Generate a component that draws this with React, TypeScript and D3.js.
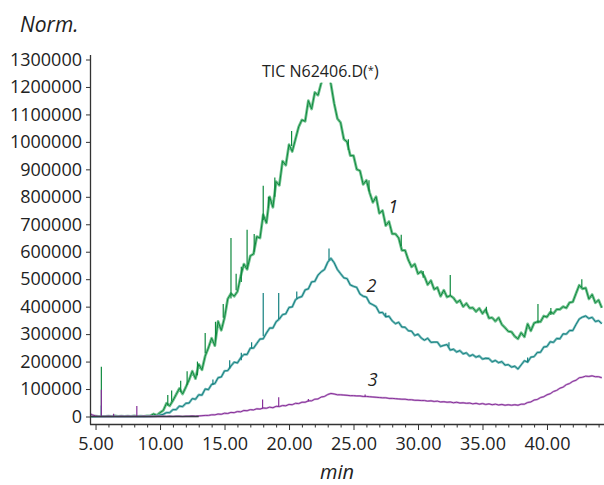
import { useRef, useEffect } from 'react';
import * as d3 from 'd3';

// sampling grid: every 0.25 min starting at 4.5 min
const startMin = 4.5;
const stepMin = 0.25;

// abundance values in thousands (narrow spikes listed separately)
const trace1 = [
  3, 0, 1, 0, 0, 0, 1, 0, 2, 0, 1, 0, 1, 0, 2, 0, 1, 0, 2, 3,
  9, 4, 14, 22, 48, 39, 58, 80, 102, 82, 107, 133, 165, 138, 190, 170, 220, 250, 285, 258,
  346, 314, 360, 428, 448, 438, 455, 510, 555, 536, 585, 592, 655, 650, 735, 705, 800, 762, 855, 842,
  930, 915, 990, 965, 1010, 1055, 1080, 1075, 1150, 1120, 1180, 1170, 1215, 1230, 1260, 1210, 1140, 1085, 1070, 1010,
  1000, 950, 950, 900, 895, 845, 860, 815, 780, 800, 740, 750, 695, 710, 665, 665, 650, 605, 605, 570,
  545, 555, 520, 528, 510, 480, 495, 463, 470, 438, 460, 435, 440, 432, 415, 423, 400, 412, 395, 396,
  382, 394, 375, 390, 358, 360, 347, 360, 335, 323, 310, 308, 292, 283, 305, 290, 337, 312, 340, 345,
  345, 366, 362, 380, 375, 390, 390, 400, 395, 415, 417, 448, 478, 465, 468, 428, 444, 414, 424, 396
];

const trace2 = [
  2, 0, 1, 0, 0, 0, 1, 0, 1, 0, 1, 0, 1, 0, 1, 0, 1, 0, 1, 0,
  1, 2, 5, 8, 14, 14, 25, 25, 38, 36, 48, 49, 65, 63, 79, 78, 100, 98, 117, 120,
  141, 144, 166, 167, 184, 198, 195, 213, 226, 226, 249, 249, 266, 282, 283, 304, 322, 322, 345, 355,
  371, 374, 397, 399, 425, 433, 437, 461, 465, 490, 492, 515, 527, 535, 562, 576, 560, 535, 520, 505,
  502, 479, 474, 470, 446, 438, 435, 413, 407, 400, 378, 379, 363, 365, 348, 338, 343, 326, 325, 312,
  311, 295, 300, 286, 278, 285, 270, 271, 271, 255, 259, 262, 242, 245, 235, 240, 228, 232, 220, 225,
  216, 221, 209, 212, 211, 199, 204, 196, 200, 187, 189, 180, 183, 173, 188, 203, 198, 216, 218, 233,
  234, 253, 255, 272, 270, 284, 283, 301, 300, 313, 313, 335, 355, 362, 366, 357, 361, 346, 349, 338
];

const trace3 = [
  12, 6, 2, 0, 0, 0, 1, 0, 0, 0, 1, 0, 1, 0, 1, 0, 0, 1, 0, 1,
  0, 1, 0, 1, 0, 1, 0, 1, 1, 0, 1, 1, 2, 1, 2, 3, 4, 4, 6, 6,
  9, 8, 12, 11, 15, 14, 18, 17, 22, 21, 25, 24, 28, 27, 31, 30, 34, 32, 37, 36,
  40, 39, 44, 43, 48, 47, 52, 52, 57, 57, 63, 64, 71, 73, 80, 84, 82, 79, 79, 78,
  77, 76, 76, 75, 75, 73, 73, 72, 71, 70, 69, 68, 68, 66, 66, 65, 64, 63, 63, 61,
  61, 59, 59, 58, 58, 56, 57, 55, 56, 53, 54, 52, 53, 50, 52, 49, 50, 48, 49, 46,
  48, 45, 47, 44, 46, 43, 45, 42, 44, 41, 43, 41, 43, 41, 45, 45, 51, 53, 60, 62,
  69, 72, 79, 83, 91, 95, 103, 107, 116, 120, 128, 132, 141, 143, 147, 146, 148, 145, 145, 141
];

// narrow spikes: [time (min), foot, top] in thousands
const spikes1 = [
  [5.45, 0, 181], [10.6, 40, 78], [10.9, 55, 95], [11.6, 90, 130], [12.1, 115, 165], [12.9, 150, 200],
  [13.5, 230, 304], [14.3, 280, 345], [14.9, 360, 410], [15.5, 430, 650], [15.9, 460, 520], [16.3, 490, 545],
  [16.75, 545, 680], [17.3, 600, 665], [18.0, 716, 840], [18.4, 760, 800], [18.9, 800, 870], [20.2, 985, 1040],
  [24.6, 970, 1010], [26.2, 820, 860], [28.7, 620, 662], [30.4, 505, 530], [32.5, 440, 515], [35.3, 375, 400],
  [39.3, 340, 410], [40.3, 370, 395], [42.7, 470, 500]
];
const spikes2 = [
  [5.45, 0, 40], [14.1, 115, 135], [15.4, 175, 205], [16.3, 205, 232], [17.1, 248, 270], [18.0, 292, 450],
  [19.2, 355, 450], [20.6, 430, 455], [23.1, 570, 612], [27.5, 362, 378], [32.4, 255, 270], [38.5, 198, 215]
];
const spikes3 = [
  [5.45, 0, 97], [6.4, 0, 10], [8.2, 0, 38], [17.95, 29, 62], [19.2, 36, 70], [21.5, 55, 64], [25.9, 72, 80]
];

// flat dark baseline at the start of the run
const baselineTimes = [4.6, 13.0];
const baselineValues = [0, 0];

const xTicks = [5, 10, 15, 20, 25, 30, 35, 40];
const yTicks = [0, 100000, 200000, 300000, 400000, 500000, 600000, 700000, 800000, 900000, 1000000, 1100000, 1200000, 1300000];

const series = [
  { values: trace1, spikes: spikes1, color: '#0e8a3e', halo: '#74c291', haloWidth: 2.8, label: '1', labelAt: [27.7, 742000] },
  { values: trace2, spikes: spikes2, color: '#13807f', halo: '#78bcbb', haloWidth: 2.4, label: '2', labelAt: [26.0, 455000] },
  { values: trace3, spikes: spikes3, color: '#87309a', halo: '#c9a2d3', haloWidth: 2.0, label: '3', labelAt: [26.1, 110000] },
];

export default function App() {
  const svgRef = useRef<SVGSVGElement>(null);
  const width = 604;
  const height = 485;

  useEffect(() => {
    if (!svgRef.current) return;
    const svg = d3.select(svgRef.current);
    svg.selectAll('*').remove();

    const font = "'Open Sans', 'Noto Sans', sans-serif";
    const axisColor = '#333';

    const x = d3.scaleLinear().domain([4.57, 44.42]).range([90, 604]);
    const y = d3.scaleLinear().domain([0, 1300000]).range([416.5, 59.5]);

    // clip: the trace runs off the top near the main hump
    svg.append('clipPath').attr('id', 'plot-clip')
      .append('rect')
      .attr('x', 90).attr('y', y(1215000))
      .attr('width', 514).attr('height', 424 - y(1215000));

    const plot = svg.append('g').attr('clip-path', 'url(#plot-clip)');

    const line = d3.line<number>()
      .x((_, i) => x(startMin + i * stepMin))
      .y(d => y(d * 1000));

    series.forEach(s => {
      plot.append('path')
        .datum(s.values)
        .attr('fill', 'none')
        .attr('stroke', s.halo)
        .attr('stroke-width', s.haloWidth)
        .attr('stroke-linejoin', 'round')
        .attr('d', line);
      plot.append('path')
        .datum(s.values)
        .attr('fill', 'none')
        .attr('stroke', s.color)
        .attr('stroke-width', 1)
        .attr('d', line);
      plot.append('g').selectAll('line')
        .data(s.spikes)
        .join('line')
        .attr('x1', d => x(d[0])).attr('x2', d => x(d[0]))
        .attr('y1', d => y(d[1] * 1000)).attr('y2', d => y(d[2] * 1000))
        .attr('stroke', s.color)
        .attr('stroke-width', 1.2);
    });

    plot.append('path')
      .datum(baselineValues)
      .attr('fill', 'none')
      .attr('stroke', '#3a3a44')
      .attr('stroke-width', 1.3)
      .attr('d', d3.line<number>().x((_, i) => x(baselineTimes[i])).y(d => y(d)));

    // y axis
    const yAxis = svg.append('g')
      .attr('transform', 'translate(90,0)')
      .call(d3.axisLeft(y).tickValues(yTicks).tickSize(4).tickPadding(4).tickFormat(d3.format('d')));
    yAxis.select('.domain').remove();
    yAxis.selectAll('line').attr('stroke', axisColor);
    yAxis.selectAll('text')
      .attr('font-family', font)
      .attr('font-size', 18)
      .attr('fill', '#222');

    svg.append('line')
      .attr('x1', 90.5).attr('x2', 90.5)
      .attr('y1', 55).attr('y2', 424.5)
      .attr('stroke', axisColor).attr('stroke-width', 1.3);

    // x axis with minor ticks every minute
    const xAxis = svg.append('g')
      .attr('transform', 'translate(0,424)')
      .call(d3.axisBottom(x).tickValues(xTicks).tickSize(6).tickPadding(7).tickFormat(d3.format('.2f')));
    xAxis.select('.domain').remove();
    xAxis.selectAll('line').attr('stroke', axisColor);
    xAxis.selectAll('text')
      .attr('font-family', font)
      .attr('font-size', 18)
      .attr('fill', '#222');

    const minor = d3.range(6, 45).filter(m => m % 5 !== 0);
    svg.append('g').selectAll('line')
      .data(minor)
      .join('line')
      .attr('x1', d => x(d) + 0.5).attr('x2', d => x(d) + 0.5)
      .attr('y1', 424).attr('y2', 427.5)
      .attr('stroke', axisColor);

    svg.append('line')
      .attr('x1', 90).attr('x2', 604)
      .attr('y1', 424.5).attr('y2', 424.5)
      .attr('stroke', axisColor).attr('stroke-width', 1.3);

    // titles
    svg.append('text')
      .attr('x', 20).attr('y', 32)
      .attr('font-family', font).attr('font-size', 21).attr('font-style', 'italic')
      .attr('fill', '#222')
      .text('Norm.');

    svg.append('text')
      .attr('x', 337).attr('y', 479)
      .attr('text-anchor', 'middle')
      .attr('font-family', font).attr('font-size', 20).attr('font-style', 'italic')
      .attr('fill', '#222')
      .text('min');

    const title = svg.append('text')
      .attr('x', 262).attr('y', 77)
      .attr('font-family', font).attr('font-size', 16)
      .attr('fill', '#222');
    title.append('tspan').text('TIC N62406.D(');
    title.append('tspan').attr('font-size', 11).attr('dy', -3).text('*');
    title.append('tspan').attr('dy', 3).text(')');

    // curve numbers
    series.forEach(s => {
      svg.append('text')
        .attr('x', x(s.labelAt[0]))
        .attr('y', y(s.labelAt[1]))
        .attr('font-family', font).attr('font-size', 18).attr('font-style', 'italic')
        .attr('fill', '#222')
        .text(s.label);
    });
  }, []);

  return (
    <svg
      ref={svgRef}
      width={width}
      height={height}
      style={{ position: 'absolute', left: 0, top: 0, background: '#fff' }}
    />
  );
}
